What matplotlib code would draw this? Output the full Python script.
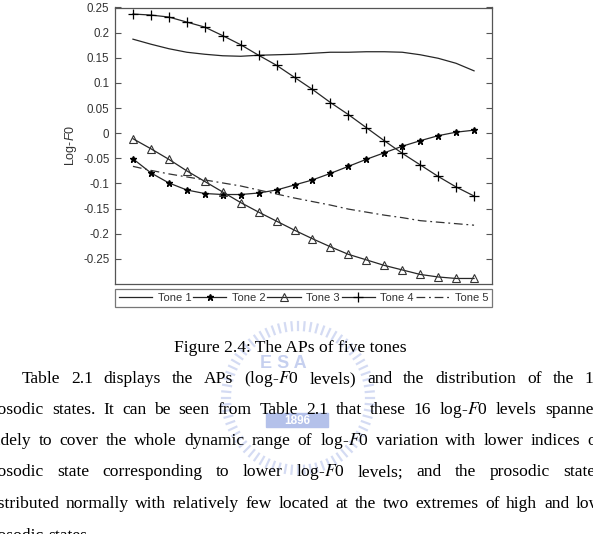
import numpy as np
import matplotlib.pyplot as plt
from matplotlib.patches import Rectangle

plt.rcParams['font.family'] = 'Liberation Sans'
plt.rcParams['axes.unicode_minus'] = False
plt.rcParams['mathtext.fontset'] = 'custom'
plt.rcParams['mathtext.rm'] = 'Liberation Sans'
plt.rcParams['mathtext.it'] = 'Liberation Sans:italic'

# values (20 frames per tone)
frames = np.arange(1, 21)
tone1 = [0.187, 0.177, 0.168, 0.161, 0.157, 0.154, 0.153, 0.155, 0.156, 0.157,
         0.159, 0.161, 0.161, 0.162, 0.162, 0.161, 0.156, 0.149, 0.139, 0.124]
tone2 = [-0.051, -0.079, -0.099, -0.113, -0.120, -0.122, -0.122, -0.119, -0.113, -0.103,
         -0.093, -0.080, -0.066, -0.052, -0.039, -0.026, -0.015, -0.005, 0.002, 0.006]
tone3 = [-0.011, -0.031, -0.052, -0.075, -0.096, -0.117, -0.138, -0.157, -0.175, -0.193,
         -0.210, -0.226, -0.241, -0.252, -0.263, -0.272, -0.281, -0.286, -0.289, -0.289]
tone4 = [0.237, 0.235, 0.231, 0.221, 0.211, 0.194, 0.176, 0.155, 0.135, 0.111,
         0.087, 0.061, 0.037, 0.011, -0.015, -0.040, -0.063, -0.086, -0.107, -0.125]
tone5 = [-0.066, -0.074, -0.081, -0.087, -0.093, -0.099, -0.105, -0.113, -0.121, -0.129,
         -0.136, -0.143, -0.151, -0.157, -0.163, -0.168, -0.174, -0.177, -0.180, -0.183]
tone_names = ['Tone 1', 'Tone 2', 'Tone 3', 'Tone 4', 'Tone 5']
ytick_vals = [0.25, 0.2, 0.15, 0.1, 0.05, 0, -0.05, -0.1, -0.15, -0.2, -0.25]

caption = 'Figure 2.4: The APs of five tones'
F0 = r'log-$\mathit{F}$0'
para_lines = [
    'Table 2.1 displays the APs (' + F0 + ' levels) and the distribution of the 16',
    'prosodic states. It can be seen from Table 2.1 that these 16 ' + F0 + ' levels spanned',
    'widely to cover the whole dynamic range of ' + F0 + ' variation with lower indices of',
    'prosodic state corresponding to lower ' + F0 + ' levels; and the prosodic states',
    'distributed normally with relatively few located at the two extremes of high and low',
    'prosodic states.',
]

W, H = 593, 534
fig = plt.figure(figsize=(W / 100, H / 100), dpi=100)

def fx(x):
    return x / W

def fy(y):
    return 1 - y / H

# faint watermark seal behind the text
cx, cy, rad = 298, 398, 76
for a in np.linspace(0, 2 * np.pi, 72, endpoint=False):
    fig.add_artist(plt.Line2D([fx(cx + (rad - 8) * np.cos(a)), fx(cx + rad * np.cos(a))],
                              [fy(cy + (rad - 8) * np.sin(a)), fy(cy + rad * np.sin(a))],
                              color='#c3cdee', lw=1.6, alpha=0.7, zorder=0))
fig.add_artist(Rectangle((fx(266), fy(427)), 62 / W, 14 / H, color='#b4c1ea', zorder=0))
fig.text(fx(297), fy(420.5), '1896', color='white', fontsize=8.5, weight='bold',
         ha='center', va='center', zorder=1)
fig.text(fx(283), fy(364), 'E S A', color='#c6d0ef', fontsize=13, weight='bold',
         ha='center', va='center', zorder=0)

ax = fig.add_axes([fx(115), fy(284), (492 - 115) / W, (284 - 7.5) / H])
lc = '#262626'
ax.plot(frames, tone1, '-', color=lc, lw=0.9, label=tone_names[0])
ax.plot(frames, tone2, '-', color=lc, lw=0.9, marker='*', ms=5, mfc='k', mec='k',
        label=tone_names[1])
ax.plot(frames, tone3, '-', color=lc, lw=0.9, marker='^', ms=6, mfc='none', mec='#333',
        mew=0.8, label=tone_names[2])
ax.plot(frames, tone4, '-', color=lc, lw=0.9, marker='+', ms=6.5, mec='k', mew=0.9,
        label=tone_names[3])
ax.plot(frames, tone5, color='#333', lw=0.9, dashes=[7, 3, 1.5, 3], label=tone_names[4])

ax.set_xlim(0, 21)
ax.set_ylim(-0.3, 0.25)
ax.set_xticks([])
ax.set_yticks(ytick_vals)
ax.set_yticklabels(['%g' % v for v in ytick_vals])
ax.tick_params(axis='y', direction='in', length=4, width=0.8, right=True,
               labelsize=8.3, labelcolor='#333', color='#555', pad=4)
for s in ax.spines.values():
    s.set_color('#555')
    s.set_linewidth(0.9)
ax.set_ylabel(r'Log-$\mathit{F}$0', fontsize=9, color='#333', labelpad=3)

leg = fig.legend(loc='lower left', bbox_to_anchor=(fx(115), fy(307), (492 - 115) / W, 22 / H),
                 mode='expand', ncol=5, numpoints=1, handlelength=3.0, handletextpad=0.5,
                 fontsize=8, frameon=True, fancybox=False, borderaxespad=0,
                 borderpad=0.35, columnspacing=0.6)
leg.get_frame().set_edgecolor('#555')
leg.get_frame().set_linewidth(0.9)
for t in leg.get_texts():
    t.set_color('#333')

# caption and body text (page scan, justified lines)
serif = 'Liberation Serif'
fsize = 12.6
fig.text(fx(290), fy(352), caption, family=serif, fontsize=fsize,
         ha='center', va='baseline', zorder=2)

fig.canvas.draw()
rend = fig.canvas.get_renderer()
baselines = [383, 414, 445, 476.5, 508, 539.5]
left_x = [21.7, -16, -16, -16, -16, -16]
right_x = 602
for i, line in enumerate(para_lines):
    words = line.split(' ')
    arts = [fig.text(0, fy(baselines[i]), w, family=serif, fontsize=fsize,
                     math_fontfamily='stix', va='baseline', zorder=2) for w in words]
    widths = [a.get_window_extent(rend).width for a in arts]
    if i < len(para_lines) - 1:
        gap = (right_x - left_x[i] - sum(widths)) / (len(words) - 1)
    else:
        gap = 4.3
    x = left_x[i]
    for a, w in zip(arts, widths):
        a.set_x(fx(x))
        x += w + gap

fig.savefig('out.png', dpi=100)
